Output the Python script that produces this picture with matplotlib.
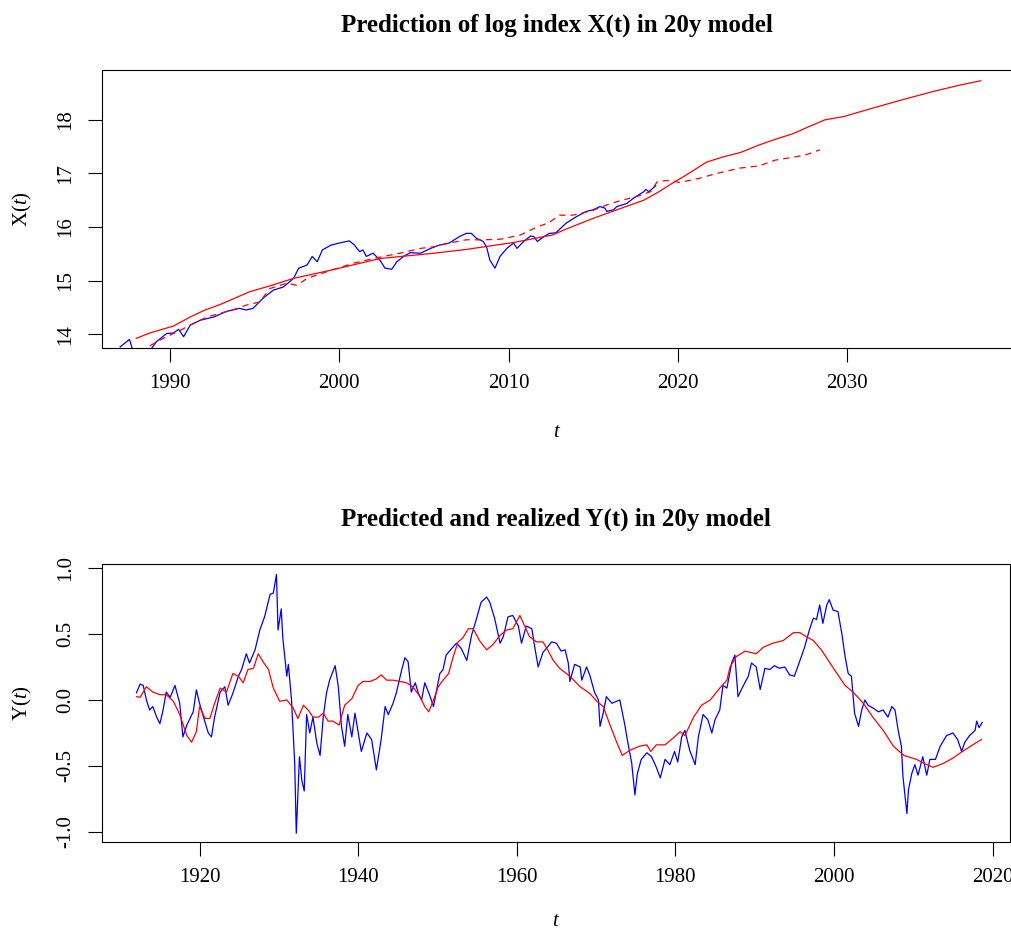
import numpy as np
import matplotlib
matplotlib.use("Agg")
import matplotlib.pyplot as plt

plt.rcParams['font.family'] = ['Liberation Serif', 'DejaVu Serif']
plt.rcParams['mathtext.fontset'] = 'custom'
plt.rcParams['mathtext.rm'] = 'Liberation Serif'
plt.rcParams['mathtext.it'] = 'Liberation Serif:italic'

# --- top panel: log index X(t) ---
x_obs_t = [1987.05, 1987.6, 1987.9, 1988.6, 1989.2, 1989.8, 1990.2, 1990.5, 1990.8, 1991.2,
           1991.8, 1992.6, 1993.3, 1994.1, 1994.5, 1994.9, 1995.5, 1996.1, 1996.7, 1997.3,
           1997.6, 1998.1, 1998.4, 1998.7, 1999.0, 1999.5, 2000.0, 2000.6, 2000.9, 2001.2,
           2001.4, 2001.6, 2002.0, 2002.4, 2002.7, 2003.1, 2003.4, 2003.8, 2004.2, 2004.8,
           2005.4, 2005.9, 2006.5, 2007.1, 2007.5, 2007.8, 2008.1, 2008.5, 2008.7, 2008.9,
           2009.2, 2009.5, 2009.9, 2010.3, 2010.5, 2010.9, 2011.3, 2011.5, 2011.7, 2012.1,
           2012.4, 2012.8, 2013.4, 2014.0, 2014.6, 2015.0, 2015.4, 2015.7, 2015.8, 2016.2,
           2016.4, 2017.0, 2017.4, 2018.0, 2018.1, 2018.3, 2018.7]
x_obs = [13.76, 13.90, 13.60, 13.60, 13.86, 14.01, 14.02, 14.09, 13.95, 14.17,
         14.26, 14.32, 14.42, 14.48, 14.45, 14.48, 14.67, 14.82, 14.88, 15.04,
         15.23, 15.29, 15.45, 15.35, 15.57, 15.66, 15.70, 15.74, 15.66, 15.54,
         15.57, 15.45, 15.51, 15.38, 15.23, 15.21, 15.35, 15.45, 15.52, 15.51,
         15.60, 15.66, 15.70, 15.82, 15.88, 15.88, 15.79, 15.73, 15.63, 15.38,
         15.23, 15.45, 15.60, 15.70, 15.60, 15.73, 15.83, 15.82, 15.73, 15.82,
         15.88, 15.89, 16.07, 16.19, 16.29, 16.32, 16.38, 16.35, 16.29, 16.32,
         16.38, 16.44, 16.54, 16.66, 16.70, 16.66, 16.77]

x_pred_t = [1988.0, 1988.8, 1990.2, 1991.2, 1992.0, 1993.1, 1994.7, 1995.9, 1997.3, 1999.6,
            2000.8, 2002.4, 2005.6, 2007.5, 2010.3, 2012.6, 2013.4, 2015.0, 2016.4, 2018.0,
            2018.9, 2019.7, 2020.5, 2021.7, 2022.7, 2023.7, 2024.8, 2025.8, 2026.8, 2027.8,
            2028.7, 2029.8, 2031.2, 2033.1, 2035.1, 2036.7, 2037.9]
x_pred = [13.92, 14.02, 14.15, 14.32, 14.44, 14.57, 14.79, 14.90, 15.04, 15.20,
          15.29, 15.41, 15.51, 15.58, 15.71, 15.85, 15.96, 16.16, 16.32, 16.50,
          16.66, 16.82, 16.97, 17.21, 17.31, 17.39, 17.53, 17.64, 17.74, 17.88,
          18.00, 18.06, 18.19, 18.36, 18.53, 18.65, 18.73]

x_alt_t = [1988.8, 1989.6, 1990.6, 1991.4, 1992.2, 1993.0, 1993.7, 1994.5, 1995.3, 1995.9,
           1996.9, 1997.5, 1998.1, 1999.6, 2000.8, 2001.6, 2002.6, 2003.6, 2004.8, 2005.6,
           2006.5, 2007.5, 2008.5, 2009.5, 2010.7, 2011.7, 2012.4, 2013.0, 2013.8, 2015.0,
           2015.8, 2016.6, 2017.6, 2018.4, 2018.8, 2019.5, 2020.1, 2021.3, 2022.3, 2023.7,
           2024.8, 2025.8, 2026.8, 2027.6, 2028.4]
x_alt = [13.78, 13.92, 14.07, 14.20, 14.32, 14.39, 14.45, 14.54, 14.60, 14.85,
         14.95, 14.91, 15.04, 15.20, 15.32, 15.38, 15.45, 15.51, 15.60, 15.63,
         15.70, 15.76, 15.76, 15.77, 15.85, 16.00, 16.08, 16.22, 16.22, 16.31,
         16.41, 16.49, 16.57, 16.66, 16.85, 16.87, 16.83, 16.91, 17.00, 17.10,
         17.14, 17.25, 17.30, 17.35, 17.44]

# --- bottom panel: Y(t) ---
y_obs_t = [1912.05, 1912.5, 1912.9, 1913.3, 1913.7, 1914.1, 1914.6, 1915.0, 1915.4, 1915.8,
           1916.3, 1916.9, 1917.5, 1917.9, 1918.4, 1919.2, 1919.6, 1920.0, 1920.5, 1921.1,
           1921.5, 1921.9, 1922.6, 1923.2, 1923.6, 1924.2, 1924.9, 1925.3, 1925.9, 1926.3,
           1927.0, 1927.6, 1928.2, 1928.9, 1929.3, 1929.7, 1929.9, 1930.3, 1930.5, 1931.0,
           1931.2, 1931.6, 1932.0, 1932.2, 1932.6, 1932.9, 1933.2, 1933.5, 1933.9, 1934.3,
           1934.8, 1935.2, 1935.6, 1936.0, 1936.4, 1937.1, 1937.5, 1937.9, 1938.3, 1938.7,
           1939.2, 1939.6, 1940.4, 1941.1, 1941.7, 1942.3, 1942.9, 1943.4, 1943.8, 1944.4,
           1944.8, 1945.5, 1945.9, 1946.3, 1946.7, 1947.2, 1947.6, 1948.0, 1948.4, 1949.0,
           1949.5, 1949.9, 1950.3, 1950.7, 1951.1, 1951.8, 1952.4, 1953.0, 1953.7, 1954.3,
           1954.9, 1955.5, 1956.2, 1956.6, 1957.2, 1957.9, 1958.3, 1958.9, 1959.5, 1960.2,
           1960.6, 1961.2, 1961.9, 1962.3, 1962.7, 1963.3, 1964.0, 1964.4, 1965.0, 1965.6,
           1966.1, 1966.5, 1966.7, 1967.3, 1968.0, 1968.2, 1968.8, 1969.2, 1969.8, 1970.3,
           1970.5, 1970.9, 1971.3, 1972.0, 1972.6, 1973.0, 1973.6, 1974.0, 1974.5, 1974.9,
           1975.2, 1975.7, 1976.4, 1977.0, 1977.6, 1978.1, 1978.7, 1979.3, 1979.9, 1980.3,
           1980.8, 1981.2, 1981.8, 1982.5, 1982.9, 1983.5, 1984.1, 1984.6, 1985.0, 1985.6,
           1986.0, 1986.5, 1987.1, 1987.5, 1987.9, 1988.5, 1989.2, 1989.6, 1990.2, 1990.7,
           1991.3, 1991.9, 1992.5, 1993.1, 1993.8, 1994.4, 1995.0, 1995.6, 1996.3, 1996.9,
           1997.4, 1997.8, 1998.2, 1998.6, 1999.1, 1999.4, 1999.9, 2000.5, 2001.0, 2001.4,
           2001.8, 2002.2, 2002.6, 2003.1, 2003.5, 2003.9, 2004.3, 2004.9, 2005.6, 2006.2,
           2006.8, 2007.3, 2007.7, 2008.1, 2008.5, 2008.7, 2009.2, 2009.4, 2009.8, 2010.2,
           2010.6, 2011.2, 2011.7, 2012.1, 2012.8, 2013.4, 2014.2, 2015.0, 2015.6, 2016.1,
           2016.5, 2017.1, 2017.8, 2018.0, 2018.3, 2018.7]
y_obs = [0.055, 0.12, 0.11, 0.00, -0.076, -0.05, -0.13, -0.18, -0.076, 0.06,
         0.02, 0.11, -0.025, -0.28, -0.19, -0.09, 0.076, -0.025, -0.13, -0.25,
         -0.28, -0.13, 0.06, 0.10, -0.04, 0.05, 0.18, 0.23, 0.35, 0.28,
         0.38, 0.53, 0.63, 0.80, 0.81, 0.95, 0.53, 0.69, 0.47, 0.18,
         0.27, 0.00, -0.48, -1.01, -0.43, -0.61, -0.69, -0.11, -0.25, -0.13,
         -0.33, -0.42, -0.13, 0.05, 0.15, 0.26, 0.10, -0.20, -0.35, -0.11,
         -0.28, -0.10, -0.39, -0.25, -0.30, -0.53, -0.30, -0.05, -0.11, -0.025,
         0.05, 0.23, 0.32, 0.29, 0.06, 0.13, 0.05, 0.00, 0.13, 0.04,
         -0.05, 0.076, 0.20, 0.23, 0.34, 0.39, 0.43, 0.39, 0.30, 0.49,
         0.61, 0.74, 0.78, 0.74, 0.62, 0.43, 0.48, 0.63, 0.64, 0.56,
         0.43, 0.56, 0.54, 0.39, 0.25, 0.36, 0.41, 0.44, 0.43, 0.37,
         0.38, 0.28, 0.14, 0.27, 0.25, 0.15, 0.25, 0.19, 0.06, 0.00,
         -0.20, -0.10, 0.025, -0.025, -0.01, 0.00, -0.18, -0.32, -0.48, -0.72,
         -0.56, -0.45, -0.40, -0.43, -0.51, -0.59, -0.45, -0.49, -0.39, -0.47,
         -0.28, -0.23, -0.38, -0.49, -0.28, -0.11, -0.15, -0.25, -0.15, -0.076,
         0.11, 0.09, 0.28, 0.34, 0.025, 0.10, 0.18, 0.28, 0.25, 0.08,
         0.24, 0.23, 0.26, 0.24, 0.25, 0.19, 0.18, 0.28, 0.40, 0.53,
         0.62, 0.61, 0.72, 0.58, 0.72, 0.76, 0.68, 0.67, 0.50, 0.33,
         0.20, 0.18, -0.10, -0.20, -0.076, 0.00, -0.04, -0.06, -0.09, -0.076,
         -0.13, -0.05, -0.076, -0.23, -0.35, -0.58, -0.86, -0.68, -0.56, -0.49,
         -0.57, -0.43, -0.57, -0.45, -0.45, -0.35, -0.27, -0.25, -0.30, -0.39,
         -0.32, -0.27, -0.23, -0.16, -0.21, -0.17]

y_pred_t = [1912.05, 1912.5, 1913.3, 1914.1, 1915.0, 1915.8, 1916.7, 1917.5, 1918.4, 1919.0,
            1919.6, 1920.0, 1920.7, 1921.3, 1921.9, 1922.6, 1923.4, 1924.2, 1924.9, 1925.5,
            1926.1, 1926.8, 1927.4, 1928.0, 1928.7, 1929.3, 1930.1, 1931.0, 1931.8, 1932.4,
            1933.1, 1933.7, 1934.3, 1935.0, 1935.6, 1936.2, 1936.8, 1937.6, 1938.3, 1939.2,
            1940.0, 1940.6, 1941.5, 1942.3, 1942.9, 1943.6, 1944.4, 1945.3, 1946.1, 1946.9,
            1947.8, 1948.4, 1948.9, 1949.5, 1950.1, 1950.7, 1951.4, 1952.0, 1952.6, 1953.2,
            1953.9, 1954.5, 1955.3, 1956.2, 1957.0, 1957.9, 1958.7, 1959.5, 1960.4, 1961.0,
            1961.6, 1962.5, 1963.3, 1963.8, 1964.6, 1965.4, 1966.7, 1968.0, 1969.2, 1970.1,
            1970.9, 1971.7, 1972.6, 1973.3, 1974.3, 1975.5, 1976.4, 1976.9, 1977.6, 1978.7,
            1979.7, 1980.6, 1981.2, 1982.3, 1983.3, 1984.4, 1985.6, 1986.5, 1986.9, 1987.7,
            1988.8, 1990.2, 1991.1, 1992.3, 1993.6, 1994.9, 1995.7, 1996.5, 1997.4, 1998.4,
            1999.5, 2000.5, 2001.4, 2002.4, 2003.7, 2004.9, 2006.2, 2007.5, 2008.8, 2010.4,
            2011.7, 2012.5, 2013.8, 2015.0, 2016.2, 2017.5, 2018.6]
y_pred = [0.025, 0.02, 0.10, 0.06, 0.04, 0.04, -0.01, -0.11, -0.27, -0.32,
          -0.24, -0.05, -0.14, -0.14, -0.025, 0.09, 0.06, 0.20, 0.18, 0.13,
          0.23, 0.24, 0.35, 0.29, 0.23, 0.09, -0.01, 0.00, -0.06, -0.14,
          -0.04, -0.076, -0.13, -0.13, -0.10, -0.16, -0.16, -0.19, -0.04, 0.01,
          0.11, 0.14, 0.14, 0.16, 0.19, 0.15, 0.15, 0.14, 0.13, 0.10,
          0.025, -0.05, -0.09, 0.00, 0.10, 0.15, 0.20, 0.33, 0.44, 0.47,
          0.54, 0.54, 0.45, 0.38, 0.42, 0.49, 0.53, 0.54, 0.64, 0.56,
          0.48, 0.44, 0.44, 0.39, 0.30, 0.24, 0.18, 0.10, 0.05, -0.01,
          -0.05, -0.18, -0.32, -0.42, -0.38, -0.35, -0.34, -0.39, -0.34, -0.34,
          -0.29, -0.24, -0.27, -0.13, -0.04, 0.00, 0.09, 0.15, 0.25, 0.33,
          0.37, 0.35, 0.40, 0.43, 0.45, 0.51, 0.51, 0.48, 0.45, 0.38,
          0.28, 0.19, 0.11, 0.06, -0.025, -0.13, -0.23, -0.35, -0.42, -0.45,
          -0.49, -0.51, -0.48, -0.44, -0.39, -0.34, -0.30]

fig = plt.figure(figsize=(10.12, 9.32), dpi=100)
ax1 = fig.add_axes([102 / 1012, 1 - 348 / 932, 910 / 1012, 278 / 932])
ax2 = fig.add_axes([102 / 1012, 1 - 842 / 932, 908 / 1012, 278 / 932])

ax1.plot(x_obs_t, x_obs, color='blue', lw=0.9)
ax1.plot(x_pred_t, x_pred, color='red', lw=0.9)
ax1.plot(x_alt_t, x_alt, color='red', lw=0.9, dashes=(5, 4))
ax1.set_xlim(1985.98, 2039.75)
ax1.set_ylim(13.74, 18.93)
ax1.set_xticks([1990, 2000, 2010, 2020, 2030])
ax1.set_yticks([14, 15, 16, 17, 18])
ax1.set_title("Prediction of log index X(t) in 20y model", fontsize=18,
              fontweight='bold', pad=28)
ax1.set_xlabel("$t$", fontsize=15, labelpad=21)
ax1.set_ylabel("X($t$)", fontsize=15, labelpad=16)

ax2.plot(y_obs_t, y_obs, color='blue', lw=0.9)
ax2.plot(y_pred_t, y_pred, color='red', lw=0.9)
ax2.set_xlim(1907.7, 2022.2)
ax2.set_ylim(-1.076, 1.03)
ax2.set_xticks([1920, 1940, 1960, 1980, 2000, 2020])
ax2.set_yticks([-1.0, -0.5, 0.0, 0.5, 1.0])
ax2.set_yticklabels(["-1.0", "-0.5", "0.0", "0.5", "1.0"])
ax2.set_title("Predicted and realized Y(t) in 20y model", fontsize=18,
              fontweight='bold', pad=28)
ax2.set_xlabel("$t$", fontsize=15, labelpad=18)
ax2.set_ylabel("Y($t$)", fontsize=15, labelpad=16)

for ax in (ax1, ax2):
    ax.tick_params(direction='out', length=10, width=0.8, labelsize=15, pad=9)
    for lab in ax.get_yticklabels():
        lab.set_rotation(90)
        lab.set_va('center')
    for sp in ax.spines.values():
        sp.set_linewidth(0.8)

fig.savefig("out.png", dpi=100)
